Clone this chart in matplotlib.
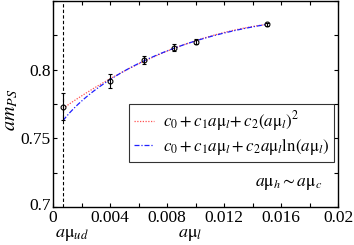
import numpy as np
import matplotlib
matplotlib.use("Agg")
import matplotlib.pyplot as plt
import matplotlib.transforms as mtransforms
from matplotlib.ticker import MultipleLocator

plt.rcParams['font.family'] = ['Liberation Serif', 'DejaVu Serif']
plt.rcParams['mathtext.fontset'] = 'stix'

# data
mu_l = [0.0007, 0.004, 0.0064, 0.0085, 0.010, 0.015]
am_ps = [0.773, 0.792, 0.807, 0.816, 0.8205, 0.833]
am_err = [0.010, 0.005, 0.003, 0.0025, 0.002, 0.0012]
mu_ud = 0.0007

# fits to the measured points (excluding the extrapolated one)
x = np.array(mu_l[1:]); y = np.array(am_ps[1:]); w = 1 / np.array(am_err[1:])
A1 = np.vstack([np.ones_like(x), x, x**2]).T
c_q = np.linalg.lstsq(A1 * w[:, None], y * w, rcond=None)[0]
A2 = np.vstack([np.ones_like(x), x, x * np.log(x)]).T
c_l = np.linalg.lstsq(A2 * w[:, None], y * w, rcond=None)[0]
xf = np.linspace(mu_ud, 0.015, 200)
yq = c_q[0] + c_q[1] * xf + c_q[2] * xf**2
yl = c_l[0] + c_l[1] * xf + c_l[2] * xf * np.log(xf)

fig = plt.figure(figsize=(3.54, 2.45), dpi=100)
ax = fig.add_axes([53/354, 1 - 207/245, 285/354, 206/245])

l1, = ax.plot(xf, yq, color='#ff5050', ls=(0, (1, 1.2)), lw=0.9,
              label=r'$c_0+c_1a\mathrm{\mu}_l\!+c_2(a\mathrm{\mu}_l)^2$')
l2, = ax.plot(xf, yl, color='#2020ff', ls=(0, (4, 1.5, 1, 1.5)), lw=0.9,
              label=r'$c_0+c_1a\mathrm{\mu}_l+c_2a\mathrm{\mu}_l\mathrm{ln}(a\mathrm{\mu}_l)$')
ax.errorbar(mu_l, am_ps, yerr=am_err, fmt='o', mfc='none', mec='black', ms=3.5,
            mew=0.8, ecolor='black', elinewidth=0.8, capsize=1.5, color='black')
ax.axvline(mu_ud, color='black', ls=(0, (3, 2)), lw=0.8)

ax.set_xlim(0, 0.02)
ax.set_ylim(0.7, 0.85)
ax.set_xticks([0, 0.004, 0.008, 0.012, 0.016, 0.02])
ax.set_xticklabels(['0', '0.004', '0.008', '0.012', '0.016', '0.02'])
ax.xaxis.set_minor_locator(MultipleLocator(0.002))
ax.set_yticks([0.7, 0.75, 0.8])
ax.set_yticklabels(['0.7', '0.75', '0.8'])
ax.yaxis.set_minor_locator(MultipleLocator(0.025))
ax.tick_params(which='both', direction='in', top=True, right=True, length=3, width=0.8,
               labelsize=12.5, pad=1.5)
ax.tick_params(axis='x', pad=2.5)
for s in ax.spines.values():
    s.set_linewidth(1.0)
fig.canvas.draw()
lab07 = ax.get_yticklabels()[0]
lab07.set_transform(lab07.get_transform() + mtransforms.ScaledTranslation(0, 3/100, fig.dpi_scale_trans))

fig.text(11/354, 1 - 110/245, r'$am_{PS}$', rotation=90,
         fontsize=14.5, ha='center', va='center')
fig.text(190/354, 1 - 234/245, r'$a\mathrm{\mu}_l$', fontsize=13, ha='center', va='center')
fig.text(72/354, 1 - 234/245, r'$a\mathrm{\mu}_{ud}$', fontsize=13, ha='center', va='center')
ax.text(0.0189, 0.711, r'$a\mathrm{\mu}_h\sim a\mathrm{\mu}_c$', fontsize=12.5, ha='right', va='bottom')

leg = ax.legend(handles=[l1, l2], loc='upper left',
                bbox_to_anchor=(129/354, 1 - 104/245), bbox_transform=fig.transFigure,
                fontsize=12.2, frameon=True, fancybox=False, edgecolor='black',
                handlelength=1.2, borderpad=0.3, labelspacing=0.15, handletextpad=0.5,
                borderaxespad=0)
leg.get_frame().set_linewidth(0.8)

fig.savefig('out.png', dpi=100)
